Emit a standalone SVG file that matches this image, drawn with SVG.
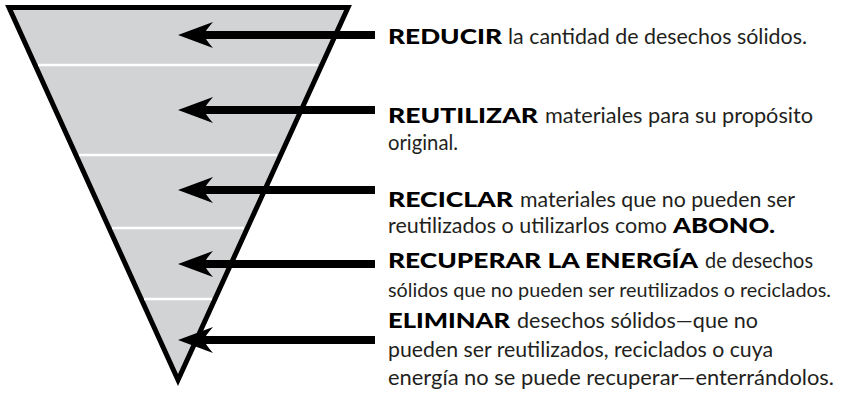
<svg xmlns="http://www.w3.org/2000/svg" width="843" height="417" viewBox="0 0 843 417">
<defs>
<style>
text{font-family:Lato,"Open Sans","Liberation Sans",sans-serif;font-size:21px}
.t{fill:#231f20}
.b{font-weight:900;fill:#000}
.sep{stroke:#fff;stroke-width:2.5}
.shaft{stroke:#000;stroke-width:8}
</style>
<path id="head" d="M0,0 L35,-13 Q27,-4 26,0 Q27,4 35,13 Z" fill="#000"/>
</defs>
<g id="pyramid">
<path d="M9,7.5 L348,7.5 L178,380 Z" fill="#d1d3d4" stroke="#000" stroke-width="5" stroke-linejoin="miter"/>
<line class="sep" x1="38" y1="65" x2="318" y2="65"/>
<line class="sep" x1="79" y1="155" x2="277" y2="155"/>
<line class="sep" x1="112" y1="228" x2="244" y2="228"/>
<line class="sep" x1="144" y1="299" x2="212" y2="299"/>
</g>
<g id="connectors">
<line class="shaft" x1="202" y1="35" x2="375" y2="35"/>
<use href="#head" x="178" y="35"/>
<line class="shaft" x1="202" y1="110" x2="375" y2="110"/>
<use href="#head" x="178" y="110"/>
<line class="shaft" x1="202" y1="190" x2="375" y2="190"/>
<use href="#head" x="178" y="190"/>
<line class="shaft" x1="202" y1="264" x2="375" y2="264"/>
<use href="#head" x="178" y="264"/>
<line class="shaft" x1="202" y1="340" x2="375" y2="340"/>
<use href="#head" x="178" y="340"/>
</g>
<g id="reducir">
<text class="b" x="388" y="44" textLength="114" lengthAdjust="spacingAndGlyphs">REDUCIR</text>
<text class="t" x="508" y="44" textLength="299" lengthAdjust="spacingAndGlyphs">la cantidad de desechos sólidos.</text>
</g>
<g id="reutilizar">
<text class="b" x="388" y="123" textLength="150" lengthAdjust="spacingAndGlyphs">REUTILIZAR</text>
<text class="t" x="545" y="123" textLength="268" lengthAdjust="spacingAndGlyphs">materiales para su propósito</text>
<text class="t" x="388" y="150" textLength="70" lengthAdjust="spacingAndGlyphs">original.</text>
</g>
<g id="reciclar">
<text class="b" x="388" y="207" textLength="125" lengthAdjust="spacingAndGlyphs">RECICLAR</text>
<text class="t" x="520" y="207" textLength="275" lengthAdjust="spacingAndGlyphs">materiales que no pueden ser</text>
<text class="t" x="388" y="233" textLength="279" lengthAdjust="spacingAndGlyphs">reutilizados o utilizarlos como</text>
<text class="b" x="673" y="233" textLength="102" lengthAdjust="spacingAndGlyphs">ABONO.</text>
</g>
<g id="recuperar">
<text class="b" x="388" y="268" textLength="310" lengthAdjust="spacingAndGlyphs">RECUPERAR LA ENERGÍA</text>
<text class="t" x="705" y="268" textLength="108" lengthAdjust="spacingAndGlyphs">de desechos</text>
<text class="t" x="388" y="297" font-size="20" style="font-size:20px" textLength="443" lengthAdjust="spacingAndGlyphs">sólidos que no pueden ser reutilizados o reciclados.</text>
</g>
<g id="eliminar">
<text class="b" x="388" y="328" textLength="122" lengthAdjust="spacingAndGlyphs">ELIMINAR</text>
<text class="t" x="517" y="328" textLength="241" lengthAdjust="spacingAndGlyphs">desechos sólidos—que no</text>
<text class="t" x="388" y="357" textLength="385" lengthAdjust="spacingAndGlyphs">pueden ser reutilizados, reciclados o cuya</text>
<text class="t" x="388" y="385" textLength="446" lengthAdjust="spacingAndGlyphs">energía no se puede recuperar—enterrándolos.</text>
</g>
</svg>
